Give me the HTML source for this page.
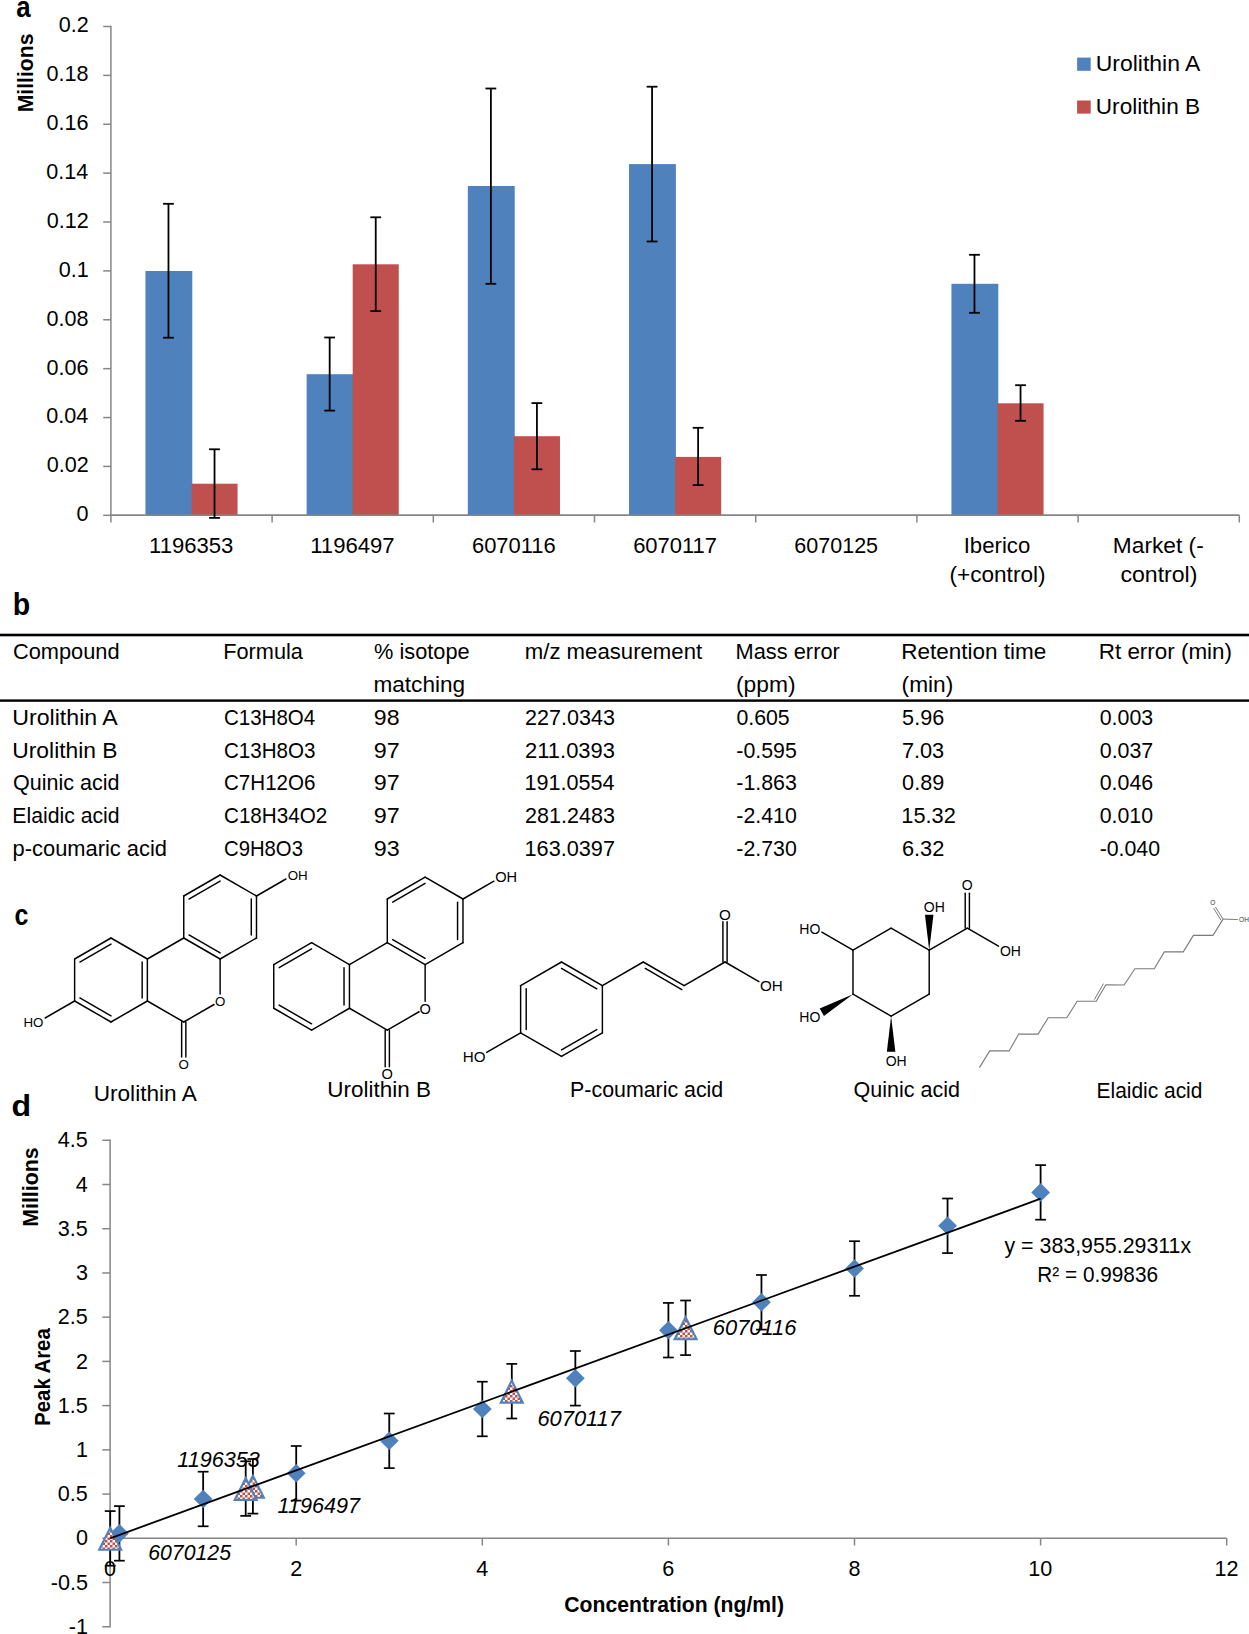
<!DOCTYPE html>
<html><head><meta charset="utf-8"><title>Figure</title>
<style>
html,body{margin:0;padding:0;background:#fff;}
svg{display:block;}
text{font-family:"Liberation Sans",sans-serif;}
</style></head>
<body>
<svg width="1249" height="1634" viewBox="0 0 1249 1634">
<defs>
<pattern id="chk" patternUnits="userSpaceOnUse" width="5" height="5">
<rect width="5" height="5" fill="#fff"/>
<rect width="2.5" height="2.5" fill="#C0504D"/>
<rect x="2.5" y="2.5" width="2.5" height="2.5" fill="#C0504D"/>
</pattern>
</defs>
<rect width="1249" height="1634" fill="#fff"/>
<g id="chart-a">
<line x1="110.90" y1="25.80" x2="110.90" y2="516.00" stroke="#868686" stroke-width="1.5"/>
<line x1="103.20" y1="515.30" x2="110.90" y2="515.30" stroke="#868686" stroke-width="1.5"/>
<text x="76.48" y="521.25" font-size="22.6" textLength="12.00" lengthAdjust="spacingAndGlyphs">0</text>
<line x1="103.20" y1="466.42" x2="110.90" y2="466.42" stroke="#868686" stroke-width="1.5"/>
<text x="46.70" y="472.37" font-size="22.6" textLength="42.01" lengthAdjust="spacingAndGlyphs">0.02</text>
<line x1="103.20" y1="417.54" x2="110.90" y2="417.54" stroke="#868686" stroke-width="1.5"/>
<text x="46.27" y="423.49" font-size="22.6" textLength="42.01" lengthAdjust="spacingAndGlyphs">0.04</text>
<line x1="103.20" y1="368.66" x2="110.90" y2="368.66" stroke="#868686" stroke-width="1.5"/>
<text x="46.59" y="374.61" font-size="22.6" textLength="42.01" lengthAdjust="spacingAndGlyphs">0.06</text>
<line x1="103.20" y1="319.78" x2="110.90" y2="319.78" stroke="#868686" stroke-width="1.5"/>
<text x="46.48" y="325.73" font-size="22.6" textLength="42.01" lengthAdjust="spacingAndGlyphs">0.08</text>
<line x1="103.20" y1="270.90" x2="110.90" y2="270.90" stroke="#868686" stroke-width="1.5"/>
<text x="58.68" y="276.85" font-size="22.6" textLength="30.00" lengthAdjust="spacingAndGlyphs">0.1</text>
<line x1="103.20" y1="222.02" x2="110.90" y2="222.02" stroke="#868686" stroke-width="1.5"/>
<text x="46.70" y="227.97" font-size="22.6" textLength="42.01" lengthAdjust="spacingAndGlyphs">0.12</text>
<line x1="103.20" y1="173.14" x2="110.90" y2="173.14" stroke="#868686" stroke-width="1.5"/>
<text x="46.27" y="179.09" font-size="22.6" textLength="42.01" lengthAdjust="spacingAndGlyphs">0.14</text>
<line x1="103.20" y1="124.26" x2="110.90" y2="124.26" stroke="#868686" stroke-width="1.5"/>
<text x="46.59" y="130.21" font-size="22.6" textLength="42.01" lengthAdjust="spacingAndGlyphs">0.16</text>
<line x1="103.20" y1="75.38" x2="110.90" y2="75.38" stroke="#868686" stroke-width="1.5"/>
<text x="46.48" y="81.33" font-size="22.6" textLength="42.01" lengthAdjust="spacingAndGlyphs">0.18</text>
<line x1="103.20" y1="26.50" x2="110.90" y2="26.50" stroke="#868686" stroke-width="1.5"/>
<text x="58.68" y="32.45" font-size="22.6" textLength="30.00" lengthAdjust="spacingAndGlyphs">0.2</text>
<line x1="110.90" y1="515.30" x2="1239.30" y2="515.30" stroke="#868686" stroke-width="1.5"/>
<line x1="110.90" y1="515.30" x2="110.90" y2="522.50" stroke="#868686" stroke-width="1.5"/>
<line x1="272.10" y1="515.30" x2="272.10" y2="522.50" stroke="#868686" stroke-width="1.5"/>
<line x1="433.30" y1="515.30" x2="433.30" y2="522.50" stroke="#868686" stroke-width="1.5"/>
<line x1="594.50" y1="515.30" x2="594.50" y2="522.50" stroke="#868686" stroke-width="1.5"/>
<line x1="755.70" y1="515.30" x2="755.70" y2="522.50" stroke="#868686" stroke-width="1.5"/>
<line x1="916.90" y1="515.30" x2="916.90" y2="522.50" stroke="#868686" stroke-width="1.5"/>
<line x1="1078.10" y1="515.30" x2="1078.10" y2="522.50" stroke="#868686" stroke-width="1.5"/>
<line x1="1239.30" y1="515.30" x2="1239.30" y2="522.50" stroke="#868686" stroke-width="1.5"/>
<rect x="145.44" y="271.00" width="46.86" height="244.30" fill="#4F81BD"/>
<rect x="191.50" y="483.70" width="46.06" height="31.60" fill="#C0504D"/>
<rect x="306.64" y="374.20" width="46.86" height="141.10" fill="#4F81BD"/>
<rect x="352.70" y="264.30" width="46.06" height="251.00" fill="#C0504D"/>
<rect x="467.84" y="186.00" width="46.86" height="329.30" fill="#4F81BD"/>
<rect x="513.90" y="436.20" width="46.06" height="79.10" fill="#C0504D"/>
<rect x="629.04" y="164.10" width="46.86" height="351.20" fill="#4F81BD"/>
<rect x="675.10" y="456.90" width="46.06" height="58.40" fill="#C0504D"/>
<rect x="951.44" y="283.80" width="46.86" height="231.50" fill="#4F81BD"/>
<rect x="997.50" y="403.30" width="46.06" height="112.00" fill="#C0504D"/>
<line x1="110.90" y1="515.30" x2="1239.30" y2="515.30" stroke="#868686" stroke-width="1.5"/>
<line x1="168.47" y1="203.80" x2="168.47" y2="337.70" stroke="#000" stroke-width="1.8"/>
<line x1="163.07" y1="203.80" x2="173.87" y2="203.80" stroke="#000" stroke-width="1.8"/>
<line x1="163.07" y1="337.70" x2="173.87" y2="337.70" stroke="#000" stroke-width="1.8"/>
<line x1="214.53" y1="449.30" x2="214.53" y2="517.90" stroke="#000" stroke-width="1.8"/>
<line x1="209.13" y1="449.30" x2="219.93" y2="449.30" stroke="#000" stroke-width="1.8"/>
<line x1="209.13" y1="517.90" x2="219.93" y2="517.90" stroke="#000" stroke-width="1.8"/>
<line x1="329.67" y1="337.50" x2="329.67" y2="410.60" stroke="#000" stroke-width="1.8"/>
<line x1="324.27" y1="337.50" x2="335.07" y2="337.50" stroke="#000" stroke-width="1.8"/>
<line x1="324.27" y1="410.60" x2="335.07" y2="410.60" stroke="#000" stroke-width="1.8"/>
<line x1="375.73" y1="217.30" x2="375.73" y2="311.10" stroke="#000" stroke-width="1.8"/>
<line x1="370.33" y1="217.30" x2="381.13" y2="217.30" stroke="#000" stroke-width="1.8"/>
<line x1="370.33" y1="311.10" x2="381.13" y2="311.10" stroke="#000" stroke-width="1.8"/>
<line x1="490.87" y1="88.50" x2="490.87" y2="283.80" stroke="#000" stroke-width="1.8"/>
<line x1="485.47" y1="88.50" x2="496.27" y2="88.50" stroke="#000" stroke-width="1.8"/>
<line x1="485.47" y1="283.80" x2="496.27" y2="283.80" stroke="#000" stroke-width="1.8"/>
<line x1="536.93" y1="403.10" x2="536.93" y2="469.30" stroke="#000" stroke-width="1.8"/>
<line x1="531.53" y1="403.10" x2="542.33" y2="403.10" stroke="#000" stroke-width="1.8"/>
<line x1="531.53" y1="469.30" x2="542.33" y2="469.30" stroke="#000" stroke-width="1.8"/>
<line x1="652.07" y1="86.70" x2="652.07" y2="241.50" stroke="#000" stroke-width="1.8"/>
<line x1="646.67" y1="86.70" x2="657.47" y2="86.70" stroke="#000" stroke-width="1.8"/>
<line x1="646.67" y1="241.50" x2="657.47" y2="241.50" stroke="#000" stroke-width="1.8"/>
<line x1="698.13" y1="427.80" x2="698.13" y2="485.10" stroke="#000" stroke-width="1.8"/>
<line x1="692.73" y1="427.80" x2="703.53" y2="427.80" stroke="#000" stroke-width="1.8"/>
<line x1="692.73" y1="485.10" x2="703.53" y2="485.10" stroke="#000" stroke-width="1.8"/>
<line x1="974.47" y1="254.80" x2="974.47" y2="312.80" stroke="#000" stroke-width="1.8"/>
<line x1="969.07" y1="254.80" x2="979.87" y2="254.80" stroke="#000" stroke-width="1.8"/>
<line x1="969.07" y1="312.80" x2="979.87" y2="312.80" stroke="#000" stroke-width="1.8"/>
<line x1="1020.53" y1="385.20" x2="1020.53" y2="420.80" stroke="#000" stroke-width="1.8"/>
<line x1="1015.13" y1="385.20" x2="1025.93" y2="385.20" stroke="#000" stroke-width="1.8"/>
<line x1="1015.13" y1="420.80" x2="1025.93" y2="420.80" stroke="#000" stroke-width="1.8"/>
<text x="148.99" y="552.90" font-size="21.5" textLength="84.33" lengthAdjust="spacingAndGlyphs">1196353</text>
<text x="310.19" y="552.90" font-size="21.5" textLength="84.44" lengthAdjust="spacingAndGlyphs">1196497</text>
<text x="471.95" y="552.90" font-size="21.5" textLength="83.76" lengthAdjust="spacingAndGlyphs">6070116</text>
<text x="633.15" y="552.90" font-size="21.5" textLength="83.87" lengthAdjust="spacingAndGlyphs">6070117</text>
<text x="794.37" y="552.90" font-size="21.5" textLength="83.70" lengthAdjust="spacingAndGlyphs">6070125</text>
<text x="963.71" y="552.90" font-size="21.5" textLength="66.52" lengthAdjust="spacingAndGlyphs">Iberico</text>
<text x="949.49" y="581.50" font-size="21.5" textLength="96.05" lengthAdjust="spacingAndGlyphs">(+control)</text>
<text x="1112.88" y="552.90" font-size="21.5" textLength="90.84" lengthAdjust="spacingAndGlyphs">Market (-</text>
<text x="1120.41" y="581.50" font-size="21.5" textLength="77.03" lengthAdjust="spacingAndGlyphs">control)</text>
<rect x="1077.10" y="57.60" width="13.60" height="13.20" fill="#4F81BD"/>
<rect x="1077.10" y="100.50" width="13.60" height="13.10" fill="#C0504D"/>
<text x="1095.78" y="70.80" font-size="21.7" textLength="104.59" lengthAdjust="spacingAndGlyphs">Urolithin A</text>
<text x="1095.80" y="113.60" font-size="21.7" textLength="104.29" lengthAdjust="spacingAndGlyphs">Urolithin B</text>
<text transform="translate(33.20,112.27) rotate(-90)" x="0" y="0" font-size="22.5" font-weight="bold" textLength="78.67" lengthAdjust="spacingAndGlyphs">Millions</text>
<text x="16.23" y="16.50" font-size="30" font-weight="bold" textLength="14.35" lengthAdjust="spacingAndGlyphs">a</text>
</g>
<g id="table-b">
<text x="12.75" y="614.70" font-size="31" font-weight="bold" textLength="17.42" lengthAdjust="spacingAndGlyphs">b</text>
<rect x="0.00" y="633.70" width="1249.00" height="2.60" fill="#000"/>
<rect x="0.00" y="699.40" width="1249.00" height="2.40" fill="#000"/>
<text x="12.91" y="659.40" font-size="21.5" textLength="106.66" lengthAdjust="spacingAndGlyphs">Compound</text>
<text x="223.26" y="659.40" font-size="21.5" textLength="79.70" lengthAdjust="spacingAndGlyphs">Formula</text>
<text x="374.14" y="659.40" font-size="21.5" textLength="95.47" lengthAdjust="spacingAndGlyphs">% isotope</text>
<text x="524.76" y="659.40" font-size="21.5" textLength="177.41" lengthAdjust="spacingAndGlyphs">m/z measurement</text>
<text x="735.55" y="659.40" font-size="21.5" textLength="104.25" lengthAdjust="spacingAndGlyphs">Mass error</text>
<text x="901.20" y="659.40" font-size="21.5" textLength="145.18" lengthAdjust="spacingAndGlyphs">Retention time</text>
<text x="1098.81" y="659.40" font-size="21.5" textLength="133.14" lengthAdjust="spacingAndGlyphs">Rt error (min)</text>
<text x="373.43" y="691.90" font-size="21.5" textLength="91.70" lengthAdjust="spacingAndGlyphs">matching</text>
<text x="735.93" y="691.90" font-size="21.5" textLength="59.57" lengthAdjust="spacingAndGlyphs">(ppm)</text>
<text x="901.64" y="691.90" font-size="21.5" textLength="51.68" lengthAdjust="spacingAndGlyphs">(min)</text>
<text x="12.26" y="725.00" font-size="21.5" textLength="105.50" lengthAdjust="spacingAndGlyphs">Urolithin A</text>
<text x="223.97" y="725.00" font-size="21.5" textLength="91.18" lengthAdjust="spacingAndGlyphs">C13H8O4</text>
<text x="373.86" y="725.00" font-size="21.5" textLength="25.72" lengthAdjust="spacingAndGlyphs">98</text>
<text x="525.12" y="725.00" font-size="21.5" textLength="89.77" lengthAdjust="spacingAndGlyphs">227.0343</text>
<text x="736.45" y="725.00" font-size="21.5" textLength="53.26" lengthAdjust="spacingAndGlyphs">0.605</text>
<text x="902.14" y="725.00" font-size="21.5" textLength="42.07" lengthAdjust="spacingAndGlyphs">5.96</text>
<text x="1099.75" y="725.00" font-size="21.5" textLength="53.37" lengthAdjust="spacingAndGlyphs">0.003</text>
<text x="12.29" y="757.70" font-size="21.5" textLength="105.32" lengthAdjust="spacingAndGlyphs">Urolithin B</text>
<text x="223.97" y="757.70" font-size="21.5" textLength="91.49" lengthAdjust="spacingAndGlyphs">C13H8O3</text>
<text x="373.85" y="757.70" font-size="21.5" textLength="25.97" lengthAdjust="spacingAndGlyphs">97</text>
<text x="525.10" y="757.70" font-size="21.5" textLength="89.82" lengthAdjust="spacingAndGlyphs">211.0393</text>
<text x="736.34" y="757.70" font-size="21.5" textLength="60.42" lengthAdjust="spacingAndGlyphs">-0.595</text>
<text x="901.91" y="757.70" font-size="21.5" textLength="42.29" lengthAdjust="spacingAndGlyphs">7.03</text>
<text x="1099.75" y="757.70" font-size="21.5" textLength="53.48" lengthAdjust="spacingAndGlyphs">0.037</text>
<text x="13.03" y="790.30" font-size="21.5" textLength="106.51" lengthAdjust="spacingAndGlyphs">Quinic acid</text>
<text x="223.97" y="790.30" font-size="21.5" textLength="91.49" lengthAdjust="spacingAndGlyphs">C7H12O6</text>
<text x="373.85" y="790.30" font-size="21.5" textLength="25.97" lengthAdjust="spacingAndGlyphs">97</text>
<text x="524.58" y="790.30" font-size="21.5" textLength="89.99" lengthAdjust="spacingAndGlyphs">191.0554</text>
<text x="736.34" y="790.30" font-size="21.5" textLength="60.53" lengthAdjust="spacingAndGlyphs">-1.863</text>
<text x="902.14" y="790.30" font-size="21.5" textLength="42.07" lengthAdjust="spacingAndGlyphs">0.89</text>
<text x="1099.75" y="790.30" font-size="21.5" textLength="53.37" lengthAdjust="spacingAndGlyphs">0.046</text>
<text x="12.30" y="823.00" font-size="21.5" textLength="107.24" lengthAdjust="spacingAndGlyphs">Elaidic acid</text>
<text x="223.97" y="823.00" font-size="21.5" textLength="103.33" lengthAdjust="spacingAndGlyphs">C18H34O2</text>
<text x="373.85" y="823.00" font-size="21.5" textLength="25.97" lengthAdjust="spacingAndGlyphs">97</text>
<text x="525.12" y="823.00" font-size="21.5" textLength="89.77" lengthAdjust="spacingAndGlyphs">281.2483</text>
<text x="736.34" y="823.00" font-size="21.5" textLength="60.42" lengthAdjust="spacingAndGlyphs">-2.410</text>
<text x="901.37" y="823.00" font-size="21.5" textLength="54.48" lengthAdjust="spacingAndGlyphs">15.32</text>
<text x="1099.75" y="823.00" font-size="21.5" textLength="53.26" lengthAdjust="spacingAndGlyphs">0.010</text>
<text x="12.58" y="855.90" font-size="21.5" textLength="154.42" lengthAdjust="spacingAndGlyphs">p-coumaric acid</text>
<text x="223.99" y="855.90" font-size="21.5" textLength="78.94" lengthAdjust="spacingAndGlyphs">C9H8O3</text>
<text x="373.85" y="855.90" font-size="21.5" textLength="25.85" lengthAdjust="spacingAndGlyphs">93</text>
<text x="524.57" y="855.90" font-size="21.5" textLength="90.43" lengthAdjust="spacingAndGlyphs">163.0397</text>
<text x="736.34" y="855.90" font-size="21.5" textLength="60.42" lengthAdjust="spacingAndGlyphs">-2.730</text>
<text x="901.91" y="855.90" font-size="21.5" textLength="42.41" lengthAdjust="spacingAndGlyphs">6.32</text>
<text x="1099.64" y="855.90" font-size="21.5" textLength="60.42" lengthAdjust="spacingAndGlyphs">-0.040</text>
</g>
<g id="structs">
<text x="14.60" y="925.00" font-size="30" font-weight="bold" textLength="13.88" lengthAdjust="spacingAndGlyphs">c</text>
<line x1="111.00" y1="938.00" x2="147.37" y2="959.00" stroke="#000" stroke-width="1.45" stroke-linecap="round"/>
<line x1="147.37" y1="959.00" x2="147.37" y2="1001.00" stroke="#000" stroke-width="1.45" stroke-linecap="round"/>
<line x1="147.37" y1="1001.00" x2="111.00" y2="1022.00" stroke="#000" stroke-width="1.45" stroke-linecap="round"/>
<line x1="111.00" y1="1022.00" x2="74.63" y2="1001.00" stroke="#000" stroke-width="1.45" stroke-linecap="round"/>
<line x1="74.63" y1="1001.00" x2="74.63" y2="959.00" stroke="#000" stroke-width="1.45" stroke-linecap="round"/>
<line x1="74.63" y1="959.00" x2="111.00" y2="938.00" stroke="#000" stroke-width="1.45" stroke-linecap="round"/>
<line x1="79.83" y1="962.01" x2="111.00" y2="944.01" stroke="#000" stroke-width="1.45" stroke-linecap="round"/>
<line x1="142.17" y1="962.01" x2="142.17" y2="997.99" stroke="#000" stroke-width="1.45" stroke-linecap="round"/>
<line x1="79.83" y1="997.99" x2="111.00" y2="1015.99" stroke="#000" stroke-width="1.45" stroke-linecap="round"/>
<line x1="147.37" y1="1001.00" x2="183.75" y2="1022.00" stroke="#000" stroke-width="1.45" stroke-linecap="round"/>
<line x1="183.75" y1="1022.00" x2="214.06" y2="1004.50" stroke="#000" stroke-width="1.45" stroke-linecap="round"/>
<line x1="220.12" y1="959.00" x2="220.12" y2="994.00" stroke="#000" stroke-width="1.45" stroke-linecap="round"/>
<line x1="183.75" y1="938.00" x2="147.37" y2="959.00" stroke="#000" stroke-width="1.45" stroke-linecap="round"/>
<line x1="220.12" y1="875.00" x2="256.49" y2="896.00" stroke="#000" stroke-width="1.45" stroke-linecap="round"/>
<line x1="256.49" y1="896.00" x2="256.49" y2="938.00" stroke="#000" stroke-width="1.45" stroke-linecap="round"/>
<line x1="256.49" y1="938.00" x2="220.12" y2="959.00" stroke="#000" stroke-width="1.45" stroke-linecap="round"/>
<line x1="220.12" y1="959.00" x2="183.75" y2="938.00" stroke="#000" stroke-width="1.45" stroke-linecap="round"/>
<line x1="183.75" y1="938.00" x2="183.75" y2="896.00" stroke="#000" stroke-width="1.45" stroke-linecap="round"/>
<line x1="183.75" y1="896.00" x2="220.12" y2="875.00" stroke="#000" stroke-width="1.45" stroke-linecap="round"/>
<line x1="188.95" y1="899.01" x2="220.12" y2="881.01" stroke="#000" stroke-width="1.45" stroke-linecap="round"/>
<line x1="251.28" y1="899.01" x2="251.28" y2="934.99" stroke="#000" stroke-width="1.45" stroke-linecap="round"/>
<line x1="220.12" y1="952.99" x2="188.95" y2="934.99" stroke="#000" stroke-width="1.45" stroke-linecap="round"/>
<text x="214.95" y="1005.79" font-size="13.3">O</text>
<line x1="181.65" y1="1022.00" x2="181.65" y2="1057.00" stroke="#000" stroke-width="1.45" stroke-linecap="round"/>
<line x1="185.85" y1="1022.00" x2="185.85" y2="1057.00" stroke="#000" stroke-width="1.45" stroke-linecap="round"/>
<text x="178.57" y="1068.79" font-size="13.3">O</text>
<line x1="256.49" y1="896.00" x2="285.94" y2="879.00" stroke="#000" stroke-width="1.45" stroke-linecap="round"/>
<text x="287.69" y="879.79" font-size="13.3">OH</text>
<line x1="74.63" y1="1001.00" x2="45.18" y2="1018.00" stroke="#000" stroke-width="1.45" stroke-linecap="round"/>
<text x="23.48" y="1026.79" font-size="13.3">HO</text>
<line x1="311.60" y1="942.70" x2="349.45" y2="964.55" stroke="#000" stroke-width="1.45" stroke-linecap="round"/>
<line x1="349.45" y1="964.55" x2="349.45" y2="1008.25" stroke="#000" stroke-width="1.45" stroke-linecap="round"/>
<line x1="349.45" y1="1008.25" x2="311.60" y2="1030.10" stroke="#000" stroke-width="1.45" stroke-linecap="round"/>
<line x1="311.60" y1="1030.10" x2="273.75" y2="1008.25" stroke="#000" stroke-width="1.45" stroke-linecap="round"/>
<line x1="273.75" y1="1008.25" x2="273.75" y2="964.55" stroke="#000" stroke-width="1.45" stroke-linecap="round"/>
<line x1="273.75" y1="964.55" x2="311.60" y2="942.70" stroke="#000" stroke-width="1.45" stroke-linecap="round"/>
<line x1="279.17" y1="967.68" x2="311.60" y2="948.96" stroke="#000" stroke-width="1.45" stroke-linecap="round"/>
<line x1="344.03" y1="967.68" x2="344.03" y2="1005.12" stroke="#000" stroke-width="1.45" stroke-linecap="round"/>
<line x1="279.17" y1="1005.12" x2="311.60" y2="1023.84" stroke="#000" stroke-width="1.45" stroke-linecap="round"/>
<line x1="349.45" y1="1008.25" x2="387.29" y2="1030.10" stroke="#000" stroke-width="1.45" stroke-linecap="round"/>
<line x1="387.29" y1="1030.10" x2="419.07" y2="1011.75" stroke="#000" stroke-width="1.45" stroke-linecap="round"/>
<line x1="425.14" y1="964.55" x2="425.14" y2="1001.25" stroke="#000" stroke-width="1.45" stroke-linecap="round"/>
<line x1="387.29" y1="942.70" x2="349.45" y2="964.55" stroke="#000" stroke-width="1.45" stroke-linecap="round"/>
<line x1="425.14" y1="877.15" x2="462.98" y2="899.00" stroke="#000" stroke-width="1.45" stroke-linecap="round"/>
<line x1="462.98" y1="899.00" x2="462.98" y2="942.70" stroke="#000" stroke-width="1.45" stroke-linecap="round"/>
<line x1="462.98" y1="942.70" x2="425.14" y2="964.55" stroke="#000" stroke-width="1.45" stroke-linecap="round"/>
<line x1="425.14" y1="964.55" x2="387.29" y2="942.70" stroke="#000" stroke-width="1.45" stroke-linecap="round"/>
<line x1="387.29" y1="942.70" x2="387.29" y2="899.00" stroke="#000" stroke-width="1.45" stroke-linecap="round"/>
<line x1="387.29" y1="899.00" x2="425.14" y2="877.15" stroke="#000" stroke-width="1.45" stroke-linecap="round"/>
<line x1="392.71" y1="902.13" x2="425.14" y2="883.41" stroke="#000" stroke-width="1.45" stroke-linecap="round"/>
<line x1="457.56" y1="902.13" x2="457.56" y2="939.57" stroke="#000" stroke-width="1.45" stroke-linecap="round"/>
<line x1="425.14" y1="958.29" x2="392.71" y2="939.57" stroke="#000" stroke-width="1.45" stroke-linecap="round"/>
<text x="419.46" y="1013.51" font-size="14.6">O</text>
<line x1="385.19" y1="1030.10" x2="385.19" y2="1066.80" stroke="#000" stroke-width="1.45" stroke-linecap="round"/>
<line x1="389.39" y1="1030.10" x2="389.39" y2="1066.80" stroke="#000" stroke-width="1.45" stroke-linecap="round"/>
<text x="381.61" y="1079.06" font-size="14.6">O</text>
<line x1="462.98" y1="899.00" x2="493.90" y2="881.15" stroke="#000" stroke-width="1.45" stroke-linecap="round"/>
<text x="495.15" y="882.41" font-size="14.6">OH</text>
<line x1="561.50" y1="962.00" x2="602.38" y2="985.60" stroke="#000" stroke-width="1.45" stroke-linecap="round"/>
<line x1="602.38" y1="985.60" x2="602.38" y2="1032.80" stroke="#000" stroke-width="1.45" stroke-linecap="round"/>
<line x1="602.38" y1="1032.80" x2="561.50" y2="1056.40" stroke="#000" stroke-width="1.45" stroke-linecap="round"/>
<line x1="561.50" y1="1056.40" x2="520.62" y2="1032.80" stroke="#000" stroke-width="1.45" stroke-linecap="round"/>
<line x1="520.62" y1="1032.80" x2="520.62" y2="985.60" stroke="#000" stroke-width="1.45" stroke-linecap="round"/>
<line x1="520.62" y1="985.60" x2="561.50" y2="962.00" stroke="#000" stroke-width="1.45" stroke-linecap="round"/>
<line x1="526.22" y1="988.83" x2="526.22" y2="1029.57" stroke="#000" stroke-width="1.45" stroke-linecap="round"/>
<line x1="561.50" y1="968.47" x2="596.78" y2="988.83" stroke="#000" stroke-width="1.45" stroke-linecap="round"/>
<line x1="561.50" y1="1049.93" x2="596.78" y2="1029.57" stroke="#000" stroke-width="1.45" stroke-linecap="round"/>
<line x1="520.62" y1="1032.80" x2="486.68" y2="1052.40" stroke="#000" stroke-width="1.45" stroke-linecap="round"/>
<text x="462.86" y="1061.87" font-size="15.2">HO</text>
<line x1="602.38" y1="985.60" x2="643.25" y2="962.00" stroke="#000" stroke-width="1.45" stroke-linecap="round"/>
<line x1="643.25" y1="962.00" x2="684.13" y2="985.60" stroke="#000" stroke-width="1.45" stroke-linecap="round"/>
<line x1="645.28" y1="968.48" x2="681.83" y2="989.58" stroke="#000" stroke-width="1.45" stroke-linecap="round"/>
<line x1="684.13" y1="985.60" x2="725.01" y2="962.00" stroke="#000" stroke-width="1.45" stroke-linecap="round"/>
<line x1="727.11" y1="962.00" x2="727.11" y2="921.80" stroke="#000" stroke-width="1.45" stroke-linecap="round"/>
<line x1="722.91" y1="962.00" x2="722.91" y2="921.80" stroke="#000" stroke-width="1.45" stroke-linecap="round"/>
<text x="719.09" y="920.27" font-size="15.2">O</text>
<line x1="725.01" y1="962.00" x2="758.95" y2="981.60" stroke="#000" stroke-width="1.45" stroke-linecap="round"/>
<text x="759.97" y="991.07" font-size="15.2">OH</text>
<line x1="891.10" y1="928.20" x2="929.21" y2="950.20" stroke="#000" stroke-width="1.45" stroke-linecap="round"/>
<line x1="929.21" y1="950.20" x2="929.21" y2="994.20" stroke="#000" stroke-width="1.45" stroke-linecap="round"/>
<line x1="929.21" y1="994.20" x2="891.10" y2="1016.20" stroke="#000" stroke-width="1.45" stroke-linecap="round"/>
<line x1="891.10" y1="1016.20" x2="852.99" y2="994.20" stroke="#000" stroke-width="1.45" stroke-linecap="round"/>
<line x1="852.99" y1="994.20" x2="852.99" y2="950.20" stroke="#000" stroke-width="1.45" stroke-linecap="round"/>
<line x1="852.99" y1="950.20" x2="891.10" y2="928.20" stroke="#000" stroke-width="1.45" stroke-linecap="round"/>
<line x1="852.99" y1="950.20" x2="821.82" y2="932.20" stroke="#000" stroke-width="1.45" stroke-linecap="round"/>
<text x="799.33" y="934.24" font-size="14.0">HO</text>
<polygon points="929.21,950.20 933.46,914.70 924.96,914.70" fill="#000"/>
<text x="923.76" y="912.24" font-size="14.0">OH</text>
<line x1="929.21" y1="950.20" x2="967.31" y2="928.20" stroke="#000" stroke-width="1.45" stroke-linecap="round"/>
<line x1="969.41" y1="928.20" x2="969.41" y2="893.20" stroke="#000" stroke-width="1.45" stroke-linecap="round"/>
<line x1="965.21" y1="928.20" x2="965.21" y2="893.20" stroke="#000" stroke-width="1.45" stroke-linecap="round"/>
<text x="961.87" y="890.24" font-size="14.0">O</text>
<line x1="967.31" y1="928.20" x2="998.49" y2="946.20" stroke="#000" stroke-width="1.45" stroke-linecap="round"/>
<text x="999.97" y="956.24" font-size="14.0">OH</text>
<polygon points="852.99,994.20 819.69,1008.52 823.94,1015.88" fill="#000"/>
<text x="799.33" y="1022.24" font-size="14.0">HO</text>
<polygon points="891.10,1016.20 886.85,1051.70 895.35,1051.70" fill="#000"/>
<text x="885.66" y="1066.24" font-size="14.0">OH</text>
<polyline points="979.4,1067.6 989.7,1050.9 1009.1,1050.9 1018.7,1034.1 1038.1,1034.1 1048.2,1017.8 1066.7,1017.8 1077.2,1001.3 1096.2,1001.3 1105.9,984.8 1124.1,985.0 1134.9,968.7 1154.3,968.7 1164.3,951.9 1183.3,951.9 1193.4,935.4 1213.0,935.4 1223.1,919.1" fill="none" stroke="#7a7a7a" stroke-width="1.1" stroke-linejoin="miter"/>
<line x1="1094.40" y1="999.50" x2="1103.50" y2="983.60" stroke="#7a7a7a" stroke-width="1.0"/>
<line x1="1223.10" y1="919.10" x2="1215.40" y2="907.00" stroke="#7a7a7a" stroke-width="1.0"/>
<line x1="1221.00" y1="920.20" x2="1213.60" y2="908.20" stroke="#7a7a7a" stroke-width="1.0"/>
<line x1="1223.10" y1="919.10" x2="1237.80" y2="919.50" stroke="#7a7a7a" stroke-width="1.0"/>
<text x="1210.20" y="904.80" font-size="6.5" fill="#333">O</text>
<text x="1239.10" y="922.00" font-size="6.5" fill="#333">OH</text>
<text x="93.70" y="1100.80" font-size="21.7" textLength="103.06" lengthAdjust="spacingAndGlyphs">Urolithin A</text>
<text x="327.32" y="1096.50" font-size="21.7" textLength="103.57" lengthAdjust="spacingAndGlyphs">Urolithin B</text>
<text x="570.09" y="1097.00" font-size="21.7" textLength="153.18" lengthAdjust="spacingAndGlyphs">P-coumaric acid</text>
<text x="853.53" y="1096.90" font-size="21.7" textLength="106.51" lengthAdjust="spacingAndGlyphs">Quinic acid</text>
<text x="1096.53" y="1098.30" font-size="21.7" textLength="105.90" lengthAdjust="spacingAndGlyphs">Elaidic acid</text>
</g>
<g id="chart-d">
<text x="11.52" y="1115.60" font-size="30" font-weight="bold" textLength="19.60" lengthAdjust="spacingAndGlyphs">d</text>
<line x1="110.10" y1="1139.57" x2="110.10" y2="1627.45" stroke="#868686" stroke-width="1.5"/>
<line x1="102.30" y1="1626.75" x2="110.10" y2="1626.75" stroke="#868686" stroke-width="1.5"/>
<text x="68.87" y="1633.85" font-size="22.6" textLength="19.19" lengthAdjust="spacingAndGlyphs">-1</text>
<line x1="102.30" y1="1582.52" x2="110.10" y2="1582.52" stroke="#868686" stroke-width="1.5"/>
<text x="50.74" y="1589.62" font-size="22.6" textLength="37.19" lengthAdjust="spacingAndGlyphs">-0.5</text>
<line x1="102.30" y1="1538.30" x2="110.10" y2="1538.30" stroke="#868686" stroke-width="1.5"/>
<text x="75.88" y="1545.40" font-size="22.6" textLength="12.00" lengthAdjust="spacingAndGlyphs">0</text>
<line x1="102.30" y1="1494.08" x2="110.10" y2="1494.08" stroke="#868686" stroke-width="1.5"/>
<text x="57.86" y="1501.17" font-size="22.6" textLength="30.00" lengthAdjust="spacingAndGlyphs">0.5</text>
<line x1="102.30" y1="1449.85" x2="110.10" y2="1449.85" stroke="#868686" stroke-width="1.5"/>
<text x="76.10" y="1456.95" font-size="22.6" textLength="12.00" lengthAdjust="spacingAndGlyphs">1</text>
<line x1="102.30" y1="1405.62" x2="110.10" y2="1405.62" stroke="#868686" stroke-width="1.5"/>
<text x="57.86" y="1412.72" font-size="22.6" textLength="30.00" lengthAdjust="spacingAndGlyphs">1.5</text>
<line x1="102.30" y1="1361.40" x2="110.10" y2="1361.40" stroke="#868686" stroke-width="1.5"/>
<text x="76.10" y="1368.50" font-size="22.6" textLength="12.00" lengthAdjust="spacingAndGlyphs">2</text>
<line x1="102.30" y1="1317.17" x2="110.10" y2="1317.17" stroke="#868686" stroke-width="1.5"/>
<text x="57.86" y="1324.27" font-size="22.6" textLength="30.00" lengthAdjust="spacingAndGlyphs">2.5</text>
<line x1="102.30" y1="1272.95" x2="110.10" y2="1272.95" stroke="#868686" stroke-width="1.5"/>
<text x="75.99" y="1280.05" font-size="22.6" textLength="12.00" lengthAdjust="spacingAndGlyphs">3</text>
<line x1="102.30" y1="1228.72" x2="110.10" y2="1228.72" stroke="#868686" stroke-width="1.5"/>
<text x="57.86" y="1235.82" font-size="22.6" textLength="30.00" lengthAdjust="spacingAndGlyphs">3.5</text>
<line x1="102.30" y1="1184.50" x2="110.10" y2="1184.50" stroke="#868686" stroke-width="1.5"/>
<text x="75.67" y="1191.60" font-size="22.6" textLength="12.00" lengthAdjust="spacingAndGlyphs">4</text>
<line x1="102.30" y1="1140.27" x2="110.10" y2="1140.27" stroke="#868686" stroke-width="1.5"/>
<text x="57.86" y="1147.37" font-size="22.6" textLength="30.00" lengthAdjust="spacingAndGlyphs">4.5</text>
<line x1="110.10" y1="1538.30" x2="1226.70" y2="1538.30" stroke="#868686" stroke-width="1.5"/>
<line x1="110.10" y1="1538.30" x2="110.10" y2="1545.50" stroke="#868686" stroke-width="1.5"/>
<text x="104.11" y="1575.70" font-size="22.6" textLength="12.00" lengthAdjust="spacingAndGlyphs">0</text>
<line x1="296.20" y1="1538.30" x2="296.20" y2="1545.50" stroke="#868686" stroke-width="1.5"/>
<text x="290.21" y="1575.70" font-size="22.6" textLength="12.00" lengthAdjust="spacingAndGlyphs">2</text>
<line x1="482.30" y1="1538.30" x2="482.30" y2="1545.50" stroke="#868686" stroke-width="1.5"/>
<text x="476.36" y="1575.70" font-size="22.6" textLength="12.00" lengthAdjust="spacingAndGlyphs">4</text>
<line x1="668.40" y1="1538.30" x2="668.40" y2="1545.50" stroke="#868686" stroke-width="1.5"/>
<text x="662.36" y="1575.70" font-size="22.6" textLength="12.00" lengthAdjust="spacingAndGlyphs">6</text>
<line x1="854.50" y1="1538.30" x2="854.50" y2="1545.50" stroke="#868686" stroke-width="1.5"/>
<text x="848.46" y="1575.70" font-size="22.6" textLength="12.00" lengthAdjust="spacingAndGlyphs">8</text>
<line x1="1040.60" y1="1538.30" x2="1040.60" y2="1545.50" stroke="#868686" stroke-width="1.5"/>
<text x="1028.24" y="1575.70" font-size="22.6" textLength="24.01" lengthAdjust="spacingAndGlyphs">10</text>
<line x1="1226.70" y1="1538.30" x2="1226.70" y2="1545.50" stroke="#868686" stroke-width="1.5"/>
<text x="1214.45" y="1575.70" font-size="22.6" textLength="24.01" lengthAdjust="spacingAndGlyphs">12</text>
<line x1="119.41" y1="1506.10" x2="119.41" y2="1560.70" stroke="#000" stroke-width="1.8"/>
<line x1="114.00" y1="1506.10" x2="124.81" y2="1506.10" stroke="#000" stroke-width="1.7"/>
<line x1="114.00" y1="1560.70" x2="124.81" y2="1560.70" stroke="#000" stroke-width="1.7"/>
<line x1="203.15" y1="1471.70" x2="203.15" y2="1526.30" stroke="#000" stroke-width="1.8"/>
<line x1="197.75" y1="1471.70" x2="208.55" y2="1471.70" stroke="#000" stroke-width="1.7"/>
<line x1="197.75" y1="1526.30" x2="208.55" y2="1526.30" stroke="#000" stroke-width="1.7"/>
<line x1="296.20" y1="1446.00" x2="296.20" y2="1500.60" stroke="#000" stroke-width="1.8"/>
<line x1="290.80" y1="1446.00" x2="301.60" y2="1446.00" stroke="#000" stroke-width="1.7"/>
<line x1="290.80" y1="1500.60" x2="301.60" y2="1500.60" stroke="#000" stroke-width="1.7"/>
<line x1="389.25" y1="1413.50" x2="389.25" y2="1468.10" stroke="#000" stroke-width="1.8"/>
<line x1="383.85" y1="1413.50" x2="394.65" y2="1413.50" stroke="#000" stroke-width="1.7"/>
<line x1="383.85" y1="1468.10" x2="394.65" y2="1468.10" stroke="#000" stroke-width="1.7"/>
<line x1="482.30" y1="1381.70" x2="482.30" y2="1436.30" stroke="#000" stroke-width="1.8"/>
<line x1="476.90" y1="1381.70" x2="487.70" y2="1381.70" stroke="#000" stroke-width="1.7"/>
<line x1="476.90" y1="1436.30" x2="487.70" y2="1436.30" stroke="#000" stroke-width="1.7"/>
<line x1="575.35" y1="1351.00" x2="575.35" y2="1405.60" stroke="#000" stroke-width="1.8"/>
<line x1="569.95" y1="1351.00" x2="580.75" y2="1351.00" stroke="#000" stroke-width="1.7"/>
<line x1="569.95" y1="1405.60" x2="580.75" y2="1405.60" stroke="#000" stroke-width="1.7"/>
<line x1="668.40" y1="1302.90" x2="668.40" y2="1357.50" stroke="#000" stroke-width="1.8"/>
<line x1="663.00" y1="1302.90" x2="673.80" y2="1302.90" stroke="#000" stroke-width="1.7"/>
<line x1="663.00" y1="1357.50" x2="673.80" y2="1357.50" stroke="#000" stroke-width="1.7"/>
<line x1="761.45" y1="1275.00" x2="761.45" y2="1329.60" stroke="#000" stroke-width="1.8"/>
<line x1="756.05" y1="1275.00" x2="766.85" y2="1275.00" stroke="#000" stroke-width="1.7"/>
<line x1="756.05" y1="1329.60" x2="766.85" y2="1329.60" stroke="#000" stroke-width="1.7"/>
<line x1="854.50" y1="1241.20" x2="854.50" y2="1295.80" stroke="#000" stroke-width="1.8"/>
<line x1="849.10" y1="1241.20" x2="859.90" y2="1241.20" stroke="#000" stroke-width="1.7"/>
<line x1="849.10" y1="1295.80" x2="859.90" y2="1295.80" stroke="#000" stroke-width="1.7"/>
<line x1="947.55" y1="1198.50" x2="947.55" y2="1253.10" stroke="#000" stroke-width="1.8"/>
<line x1="942.15" y1="1198.50" x2="952.95" y2="1198.50" stroke="#000" stroke-width="1.7"/>
<line x1="942.15" y1="1253.10" x2="952.95" y2="1253.10" stroke="#000" stroke-width="1.7"/>
<line x1="1040.60" y1="1165.10" x2="1040.60" y2="1219.70" stroke="#000" stroke-width="1.8"/>
<line x1="1035.20" y1="1165.10" x2="1046.00" y2="1165.10" stroke="#000" stroke-width="1.7"/>
<line x1="1035.20" y1="1219.70" x2="1046.00" y2="1219.70" stroke="#000" stroke-width="1.7"/>
<line x1="110.20" y1="1511.10" x2="110.20" y2="1565.70" stroke="#000" stroke-width="1.8"/>
<line x1="104.80" y1="1511.10" x2="115.60" y2="1511.10" stroke="#000" stroke-width="1.7"/>
<line x1="104.80" y1="1565.70" x2="115.60" y2="1565.70" stroke="#000" stroke-width="1.7"/>
<line x1="252.90" y1="1459.00" x2="252.90" y2="1513.60" stroke="#000" stroke-width="1.8"/>
<line x1="247.50" y1="1459.00" x2="258.30" y2="1459.00" stroke="#000" stroke-width="1.7"/>
<line x1="247.50" y1="1513.60" x2="258.30" y2="1513.60" stroke="#000" stroke-width="1.7"/>
<line x1="245.70" y1="1461.30" x2="245.70" y2="1515.90" stroke="#000" stroke-width="1.8"/>
<line x1="240.30" y1="1461.30" x2="251.10" y2="1461.30" stroke="#000" stroke-width="1.7"/>
<line x1="240.30" y1="1515.90" x2="251.10" y2="1515.90" stroke="#000" stroke-width="1.7"/>
<line x1="511.80" y1="1363.90" x2="511.80" y2="1418.50" stroke="#000" stroke-width="1.8"/>
<line x1="506.40" y1="1363.90" x2="517.20" y2="1363.90" stroke="#000" stroke-width="1.7"/>
<line x1="506.40" y1="1418.50" x2="517.20" y2="1418.50" stroke="#000" stroke-width="1.7"/>
<line x1="685.60" y1="1300.50" x2="685.60" y2="1355.10" stroke="#000" stroke-width="1.8"/>
<line x1="680.20" y1="1300.50" x2="691.00" y2="1300.50" stroke="#000" stroke-width="1.7"/>
<line x1="680.20" y1="1355.10" x2="691.00" y2="1355.10" stroke="#000" stroke-width="1.7"/>
<polygon points="110.00,1533.40 119.41,1524.10 128.81,1533.40 119.41,1542.70" fill="#4F81BD"/>
<polygon points="193.75,1499.00 203.15,1489.70 212.55,1499.00 203.15,1508.30" fill="#4F81BD"/>
<polygon points="286.80,1473.30 296.20,1464.00 305.60,1473.30 296.20,1482.60" fill="#4F81BD"/>
<polygon points="379.85,1440.80 389.25,1431.50 398.65,1440.80 389.25,1450.10" fill="#4F81BD"/>
<polygon points="472.90,1409.00 482.30,1399.70 491.70,1409.00 482.30,1418.30" fill="#4F81BD"/>
<polygon points="565.95,1378.30 575.35,1369.00 584.75,1378.30 575.35,1387.60" fill="#4F81BD"/>
<polygon points="659.00,1330.20 668.40,1320.90 677.80,1330.20 668.40,1339.50" fill="#4F81BD"/>
<polygon points="752.05,1302.30 761.45,1293.00 770.85,1302.30 761.45,1311.60" fill="#4F81BD"/>
<polygon points="845.10,1268.50 854.50,1259.20 863.90,1268.50 854.50,1277.80" fill="#4F81BD"/>
<polygon points="938.15,1225.80 947.55,1216.50 956.95,1225.80 947.55,1235.10" fill="#4F81BD"/>
<polygon points="1031.20,1192.40 1040.60,1183.10 1050.00,1192.40 1040.60,1201.70" fill="#4F81BD"/>
<polygon points="110.20,1527.80 121.20,1549.80 99.20,1549.80" fill="url(#chk)" stroke="#4F81BD" stroke-width="2.1"/>
<polygon points="252.90,1475.70 263.90,1497.70 241.90,1497.70" fill="url(#chk)" stroke="#4F81BD" stroke-width="2.1"/>
<polygon points="245.70,1478.00 256.70,1500.00 234.70,1500.00" fill="url(#chk)" stroke="#4F81BD" stroke-width="2.1"/>
<polygon points="511.80,1380.60 522.80,1402.60 500.80,1402.60" fill="url(#chk)" stroke="#4F81BD" stroke-width="2.1"/>
<polygon points="685.60,1317.20 696.60,1339.20 674.60,1339.20" fill="url(#chk)" stroke="#4F81BD" stroke-width="2.1"/>
<line x1="110.10" y1="1538.30" x2="1040.60" y2="1198.69" stroke="#000" stroke-width="1.8"/>
<text x="177.26" y="1466.70" font-size="21.5" font-style="italic" textLength="82.53" lengthAdjust="spacingAndGlyphs">1196353</text>
<text x="277.56" y="1512.50" font-size="21.5" font-style="italic" textLength="82.57" lengthAdjust="spacingAndGlyphs">1196497</text>
<text x="148.23" y="1560.10" font-size="21.5" font-style="italic" textLength="82.73" lengthAdjust="spacingAndGlyphs">6070125</text>
<text x="537.40" y="1426.20" font-size="21.5" font-style="italic" textLength="83.52" lengthAdjust="spacingAndGlyphs">6070117</text>
<text x="712.79" y="1335.40" font-size="21.5" font-style="italic" textLength="83.68" lengthAdjust="spacingAndGlyphs">6070116</text>
<text x="1004.49" y="1253.30" font-size="22.6" textLength="186.70" lengthAdjust="spacingAndGlyphs">y = 383,955.29311x</text>
<text x="1037.34" y="1282.20" font-size="22.6" textLength="120.69" lengthAdjust="spacingAndGlyphs">R² = 0.99836</text>
<text x="564.35" y="1611.80" font-size="21.7" font-weight="bold" textLength="219.67" lengthAdjust="spacingAndGlyphs">Concentration (ng/ml)</text>
<text transform="translate(50.30,1425.72) rotate(-90)" x="0" y="0" font-size="22.5" font-weight="bold" textLength="97.41" lengthAdjust="spacingAndGlyphs">Peak Area</text>
<text transform="translate(38.40,1226.68) rotate(-90)" x="0" y="0" font-size="22.5" font-weight="bold" textLength="79.18" lengthAdjust="spacingAndGlyphs">Millions</text>
</g>
</svg>
</body></html>
